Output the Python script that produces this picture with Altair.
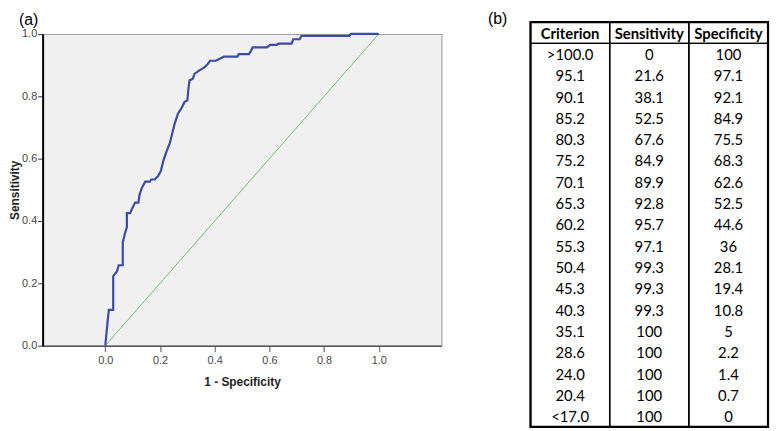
import altair as alt
import pandas as pd

# ---------------- ROC curve ----------------
fpr = [0.0, 0.008, 0.013, 0.029, 0.029, 0.037, 0.043, 0.049, 0.064, 0.064,
       0.072, 0.079, 0.079, 0.091, 0.097, 0.109, 0.121, 0.125, 0.134, 0.146,
       0.163, 0.168, 0.181, 0.193, 0.203, 0.212, 0.224, 0.236, 0.242, 0.254,
       0.266, 0.278, 0.290, 0.300, 0.304, 0.308, 0.320, 0.326, 0.344, 0.362,
       0.374, 0.383, 0.404, 0.434, 0.483, 0.488, 0.525, 0.531, 0.539, 0.591,
       0.603, 0.627, 0.633, 0.681, 0.687, 0.711, 0.717, 0.892, 0.898, 1.0]
tpr = [0.0, 0.073, 0.115, 0.115, 0.223, 0.232, 0.239, 0.258, 0.258, 0.332,
       0.360, 0.380, 0.425, 0.425, 0.438, 0.459, 0.459, 0.483, 0.507, 0.526,
       0.526, 0.533, 0.533, 0.544, 0.560, 0.592, 0.623, 0.650, 0.671, 0.713,
       0.745, 0.761, 0.782, 0.787, 0.824, 0.851, 0.856, 0.872, 0.883, 0.893,
       0.903, 0.914, 0.914, 0.927, 0.927, 0.935, 0.935, 0.943, 0.957, 0.957,
       0.965, 0.965, 0.969, 0.969, 0.983, 0.983, 0.994, 0.994, 1.0, 1.0]
diag_x = [0.0, 1.0]
diag_y = [0.0, 1.0]
tick_values = [0.0, 0.2, 0.4, 0.6, 0.8, 1.0]

# ---------------- Table (b) ----------------
headers = ["Criterion", "Sensitivity", "Specificity"]
criterion = [">100.0", "95.1", "90.1", "85.2", "80.3", "75.2", "70.1", "65.3", "60.2",
             "55.3", "50.4", "45.3", "40.3", "35.1", "28.6", "24.0", "20.4", "<17.0"]
sensitivity = ["0", "21.6", "38.1", "52.5", "67.6", "84.9", "89.9", "92.8", "95.7",
               "97.1", "99.3", "99.3", "99.3", "100", "100", "100", "100", "100"]
specificity = ["100", "97.1", "92.1", "84.9", "75.5", "68.3", "62.6", "52.5", "44.6",
               "36", "28.1", "19.4", "10.8", "5", "2.2", "1.4", "0.7", "0"]

roc_df = pd.DataFrame({"fpr": fpr, "tpr": tpr, "i": list(range(len(fpr)))})
diag_df = pd.DataFrame({"fpr": diag_x, "tpr": diag_y})

AX_FONT = "Liberation Sans"
x_scale = alt.Scale(domain=[-0.229, 1.229], nice=False, zero=False)
y_scale = alt.Scale(domain=[0, 1], nice=False, zero=False)

x_axis = alt.Axis(values=tick_values, format=".1f", title="1 - Specificity", grid=False,
                  domainColor="#555555", domainWidth=1.5, tickColor="#888888",
                  tickSize=6, tickWidth=1.5, labelFont=AX_FONT, labelFontSize=11,
                  labelColor="#444444", labelPadding=3, labelFlush=False,
                  titleFont=AX_FONT, titleFontSize=12, titleFontWeight="bold",
                  titleColor="#222222", titlePadding=11)
y_axis = alt.Axis(values=tick_values, format=".1f", title="Sensitivity", grid=False,
                  domainColor="#000000", domainWidth=2, tickColor="#333333",
                  tickSize=5, tickWidth=1, labelFont=AX_FONT, labelFontSize=11,
                  labelColor="#444444", labelPadding=1, labelFlush=False,
                  titleFont=AX_FONT, titleFontSize=12, titleFontWeight="bold",
                  titleColor="#222222", titlePadding=0)

diag = alt.Chart(diag_df).mark_line(color="#6cc06c", strokeWidth=1).encode(
    x=alt.X("fpr:Q", scale=x_scale, axis=x_axis),
    y=alt.Y("tpr:Q", scale=y_scale, axis=y_axis),
)
curve = alt.Chart(roc_df).mark_line(color="#3b4ca6", strokeWidth=2.2,
                                    strokeJoin="miter").encode(
    x=alt.X("fpr:Q", scale=x_scale, axis=x_axis),
    y=alt.Y("tpr:Q", scale=y_scale, axis=y_axis),
    order="i:Q",
)

roc = alt.layer(diag, curve).properties(
    width=403, height=315,
    view=alt.ViewBackground(fill="#f0f0f0", stroke="#999999", strokeWidth=1),
    title=alt.TitleParams("(a)", anchor="start", frame="group", dx=-24, offset=0,
                          font=AX_FONT, fontSize=16, fontWeight="normal", color="#000000"),
)

# table data in long form
cols = [criterion, sensitivity, specificity]
n_rows = len(criterion) + 1
n_cols = len(headers)
body = pd.DataFrame([
    {"xc": c + 0.5, "yc": r + 1.5, "label": cols[c][r]}
    for c in range(n_cols) for r in range(len(criterion))
])
head = pd.DataFrame([{"xc": c + 0.5, "yc": 0.5, "label": headers[c]} for c in range(n_cols)])
cells = pd.DataFrame(
    [{"x0": c, "x1": c + 1, "y0": 0, "y1": 1} for c in range(n_cols)] +
    [{"x0": c, "x1": c + 1, "y0": 1, "y1": n_rows} for c in range(n_cols)]
)
outer = pd.DataFrame([{"x0": 0, "x1": n_cols, "y0": 0, "y1": n_rows}])

tx = alt.Scale(domain=[0, n_cols], range=[0, 240], nice=False, zero=False)
ty = alt.Scale(domain=[0, n_rows], range=[-12, 397], nice=False, zero=False)

cell_rects = alt.Chart(cells).mark_rect(fill=None, stroke="#000000", strokeWidth=1.4).encode(
    x=alt.X("x0:Q", scale=tx, axis=None), x2="x1:Q",
    y=alt.Y("y0:Q", scale=ty, axis=None), y2="y1:Q",
)
outer_rect = alt.Chart(outer).mark_rect(fill=None, stroke="#000000", strokeWidth=2.2).encode(
    x=alt.X("x0:Q", scale=tx, axis=None), x2="x1:Q",
    y=alt.Y("y0:Q", scale=ty, axis=None), y2="y1:Q",
)
head_text = alt.Chart(head).mark_text(font="Lato", fontSize=15, fontWeight="bold",
                                      color="#000000", baseline="middle", dy=1).encode(
    x=alt.X("xc:Q", scale=tx, axis=None),
    y=alt.Y("yc:Q", scale=ty, axis=None),
    text="label:N",
)
body_text = alt.Chart(body).mark_text(font="Lato", fontSize=15, color="#000000",
                                      baseline="middle", dy=1).encode(
    x=alt.X("xc:Q", scale=tx, axis=None),
    y=alt.Y("yc:Q", scale=ty, axis=None),
    text="label:N",
)

table = alt.layer(cell_rects, outer_rect, head_text, body_text).properties(
    width=240, height=397,
    view=alt.ViewBackground(stroke=None),
    title=alt.TitleParams("(b)", anchor="start", frame="group", dx=-43, offset=-6,
                          font=AX_FONT, fontSize=16, fontWeight="normal", color="#000000"),
)

chart = alt.hconcat(roc, table, spacing=90, bounds="flush", padding=0).configure_view(
    stroke=None
)

chart.save("out.html", embed_options={"renderer": "svg", "actions": False})
